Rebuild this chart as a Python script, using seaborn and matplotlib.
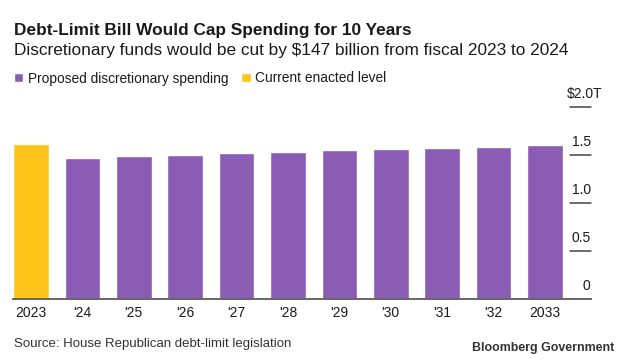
import pandas as pd
import seaborn as sns
import matplotlib.pyplot as plt
from matplotlib.patches import Patch

# --- dados (trilhões de US$) ---
anos = ["2023", "'24", "'25", "'26", "'27", "'28", "'29", "'30", "'31", "'32", "2033"]
valores = [1.618, 1.465, 1.489, 1.500, 1.517, 1.528, 1.549, 1.559, 1.577, 1.587, 1.608]
series = ["Current enacted level"] + ["Proposed discretionary spending"] * 10
ordem_legenda = ["Proposed discretionary spending", "Current enacted level"]
ticks_y = [0, 0.5, 1.0, 1.5, 2.0]
rotulos_y = ["0", "0.5", "1.0", "1.5", "$2.0T"]

ROXO = "#8a5cb4"
AMARELO = "#fdc51a"
TEXTO = "#1a1a1a"

df = pd.DataFrame({"ano": anos, "valor": valores, "serie": series})

sns.set_theme(style="white")
plt.rcParams["font.family"] = ["Liberation Sans", "DejaVu Sans"]

W, H = 620, 363
fig = plt.figure(figsize=(W / 100, H / 100), dpi=100)
ax = fig.add_axes([13.3 / W, 64 / H, (590.7 - 13.3) / W, 192 / H])

sns.barplot(data=df, x="ano", y="valor", hue="serie", order=anos,
            palette={ordem_legenda[0]: ROXO, ordem_legenda[1]: AMARELO},
            dodge=False, width=0.69, saturation=1, legend=False, ax=ax)

ax.set_xlim(-0.345, 10.89)
ax.set_ylim(0, 2.0)
ax.set_xlabel("")
ax.set_ylabel("")
for lado in ["top", "left", "right"]:
    ax.spines[lado].set_visible(False)
ax.spines["bottom"].set_color("#666666")
ax.spines["bottom"].set_linewidth(1.4)
ax.tick_params(axis="x", length=0, pad=5, labelsize=10, labelcolor=TEXTO)
ax.set_yticks(ticks_y)
ax.tick_params(axis="y", length=0, labelleft=False)

# eixo y estilo Bloomberg: traço curto com rótulo acima
x_ini, x_fim = 10.49, 10.89
for v, rot in zip(ticks_y, rotulos_y):
    if v > 0:
        ax.plot([x_ini, x_fim], [v, v], color="#444444", lw=1.1, clip_on=False)
    dx = 8.5 if rot.endswith("T") else 0
    ax.annotate(rot, xy=(x_fim, v), xytext=(dx, 9.5), textcoords="offset points",
                ha="right", va="center", fontsize=10, color=TEXTO, annotation_clip=False)

# títulos
fig.text(14 / W, 1 - 35 / H, "Debt-Limit Bill Would Cap Spending for 10 Years",
         fontsize=12.4, fontweight="bold", color=TEXTO, va="baseline")
fig.text(14 / W, 1 - 55 / H,
         "Discretionary funds would be cut by $147 billion from fiscal 2023 to 2024",
         fontsize=12.45, color=TEXTO, va="baseline")

# legenda
alcas = [Patch(facecolor=ROXO), Patch(facecolor=AMARELO)]
fig.legend(alcas, ordem_legenda, loc="center left", bbox_to_anchor=(14 / W, 1 - 78.5 / H),
           ncol=2, frameon=False, fontsize=9.9, handlelength=0.66, handleheight=0.66,
           handletextpad=0.35, columnspacing=0.95, borderpad=0, borderaxespad=0,
           labelcolor=TEXTO)

# rodapé
fig.text(14 / W, 1 - 344 / H, "Source: House Republican debt-limit legislation",
         fontsize=9.5, color="#333333", va="center")
fig.text(614 / W, 1 - 348 / H, "Bloomberg Government",
         fontsize=8.9, fontweight="bold", color="#333333", va="center", ha="right")

fig.savefig("out.png", dpi=100)
